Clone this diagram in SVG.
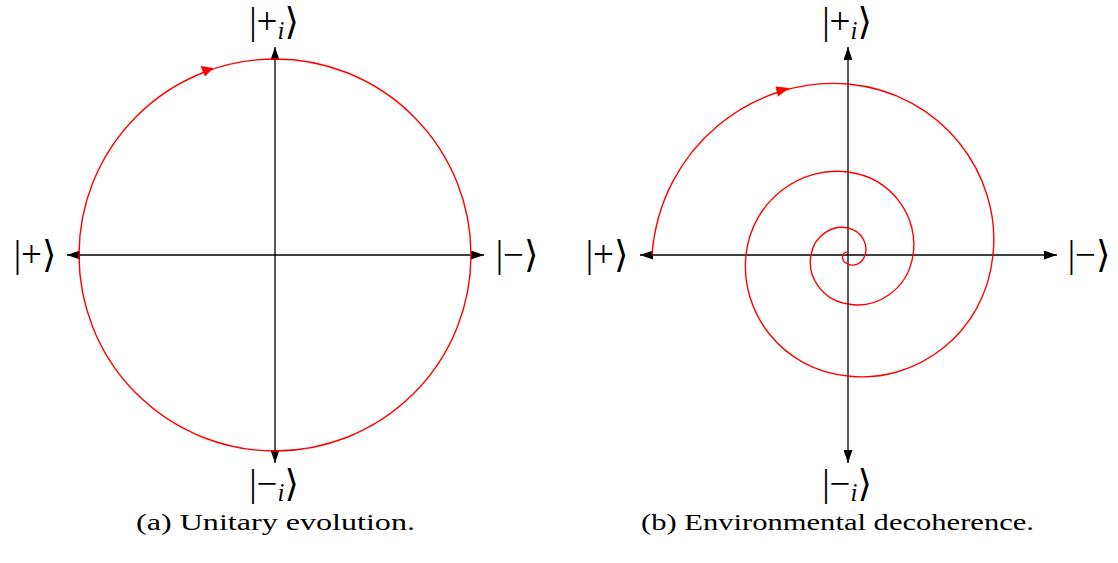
<svg xmlns="http://www.w3.org/2000/svg" width="1118" height="563" viewBox="0 0 1118 563">
<style>
.axis{stroke:#000;stroke-width:1.3;fill:none;marker-start:url(#ah);marker-end:url(#ah)}
.curve{stroke:#ff0000;stroke-width:1.4;fill:none}
.tri{fill:#ff0000}
.ket{font-family:"Liberation Serif","DejaVu Serif",serif;font-size:37px;fill:#000}
.sub{font-style:italic;font-size:25px}
.cap{font-family:"Liberation Serif","DejaVu Serif",serif;font-size:24px;fill:#000}
</style>
<defs>
<marker id="ah" viewBox="0 0 13 9" refX="13" refY="4.5" markerWidth="13" markerHeight="9" markerUnits="userSpaceOnUse" orient="auto-start-reverse">
<path d="M0,0 L13,4.5 L0,9 Z" fill="#000"/>
</marker>
</defs>
<g id="connectors">
<line class="axis" x1="67" y1="255" x2="484" y2="255"/>
<line class="axis" x1="275" y1="463" x2="275" y2="47"/>
<line class="axis" x1="640" y1="255" x2="1057" y2="255"/>
<line class="axis" x1="848" y1="463" x2="848" y2="47"/>
</g>
<g id="circle-a">
<circle class="curve" cx="275" cy="255" r="196"/>
<path class="tri" d="M213.5,68 L200.5,66 L205,76.5 Z"/>
</g>
<g id="spiral-b">
<path class="curve" d="M652,255 C660.3,146.7 753.6,75.7 848,84 C942.4,92.67 1001.67,174.9 993,255 C985,335.1 914.8,384 848,376 C781.2,369.670 739.67,311.3 746,255 C752.33,198.7 802.2,165.67 848,172 C893.8,178 919,219.1 913,255 C907.67,290.9 875.06,309.33 848,304 C820.94,300 807,275.4 811,255 C814.33,234.6 833.1,224.67 848,228 C862.9,231.33 868.33,245.6 865,255 C862.33,264.4 852.97,266.67 848,264 C843.03,262.67 841.67,257.76 843,255 C843.83,252.24 846.62,251.67 848,252.5"/>
<path class="tri" d="M789.5,88 L775.5,86.5 L778,96.5 Z"/>
</g>
<g id="label-a-plus">
<text class="ket" x="35" y="267" text-anchor="middle">|+⟩</text>
</g>
<g id="label-a-minus">
<text class="ket" x="517" y="267" text-anchor="middle">|−⟩</text>
</g>
<g id="label-a-plus-i">
<text class="ket" x="274" y="34" text-anchor="middle">|+<tspan class="sub" dy="5">i</tspan><tspan dy="-5">⟩</tspan></text>
</g>
<g id="label-a-minus-i">
<text class="ket" x="274" y="496" text-anchor="middle">|−<tspan class="sub" dy="5">i</tspan><tspan dy="-5">⟩</tspan></text>
</g>
<g id="label-b-plus">
<text class="ket" x="607" y="267" text-anchor="middle">|+⟩</text>
</g>
<g id="label-b-minus">
<text class="ket" x="1089" y="267" text-anchor="middle">|−⟩</text>
</g>
<g id="label-b-plus-i">
<text class="ket" x="847" y="34" text-anchor="middle">|+<tspan class="sub" dy="5">i</tspan><tspan dy="-5">⟩</tspan></text>
</g>
<g id="label-b-minus-i">
<text class="ket" x="847" y="496" text-anchor="middle">|−<tspan class="sub" dy="5">i</tspan><tspan dy="-5">⟩</tspan></text>
</g>
<g id="caption-a">
<text class="cap" x="275.5" y="530" text-anchor="middle" textLength="279" lengthAdjust="spacingAndGlyphs">(a) Unitary evolution.</text>
</g>
<g id="caption-b">
<text class="cap" x="837.5" y="530" text-anchor="middle" textLength="393" lengthAdjust="spacingAndGlyphs">(b) Environmental decoherence.</text>
</g>
</svg>
